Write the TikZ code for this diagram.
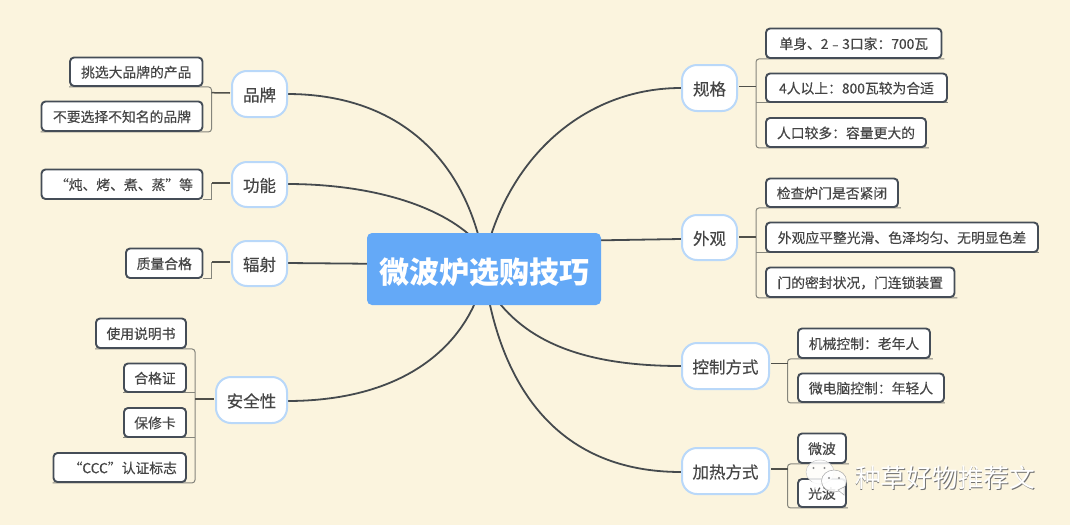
\documentclass[tikz,border=0pt]{standalone}
\usetikzlibrary{calc}
\usepackage{fontspec}
\setmainfont{Noto Sans CJK SC}
\newfontfamily\semifont{Noto Sans CJK SC}[FakeBold=0.3]
\definecolor{bgc}{HTML}{FBF4DE}
\definecolor{cen}{HTML}{64A9F7}
\definecolor{brd}{HTML}{B9D8F9}
\definecolor{dark}{HTML}{454D57}
\definecolor{curve}{HTML}{454A4E}
\definecolor{thin}{HTML}{85857C}
\definecolor{txt}{HTML}{454545}
\pgfdeclarelayer{bgl}
\pgfdeclarelayer{under}
\pgfsetlayers{bgl,under,main}
\newcommand\boxnode[6]{\node[#1,minimum width={(#4-#2)*1pt},minimum height={(#5-#3)*1pt}] (#6) at ({(#2+#4)/2},{(#3+#5)/2})}
\tikzset{
  centerbox/.style={draw=none,fill=cen,rounded corners=5pt,inner sep=0pt,text=white,text height=28.2pt,text depth=0pt,font=\fontsize{30}{32}\selectfont\bfseries},
  branchbox/.style={draw=brd,line width=2pt,fill=white,rounded corners=15pt,inner sep=0pt,text=txt,text height=14.6pt,text depth=0pt,font=\semifont\fontsize{16.5}{18}\selectfont},
  leafbox/.style={draw=dark,line width=1.9pt,fill=white,rounded corners=4pt,inner sep=0pt,text=txt,text height=11.4pt,text depth=0pt,font=\semifont\fontsize{13.8}{15}\selectfont},
  maincurve/.style={draw=curve,line width=1.8pt},
  bracket/.style={draw=thin,line width=1pt,rounded corners=3pt},
  stub/.style={draw=thin!60!black,line width=1.5pt},
  marktext/.style={inner sep=0pt,font=\fontsize{25.7}{28}\selectfont}
}
\begin{document}
\begin{tikzpicture}[x=1pt,y=-1pt]
\useasboundingbox (0,0) rectangle (1070,525);
\begin{pgfonlayer}{bgl}
\fill[bgc] (0,0) rectangle (1070,525);
\end{pgfonlayer}
\coordinate (bpp) at (287,94);
\coordinate (bgn) at (287,184);
\coordinate (bfs) at (287,263);
\coordinate (baq) at (287,401);
\coordinate (rgg) at (681,88);
\coordinate (rwg) at (681,239);
\coordinate (rkz) at (681,366);
\coordinate (rjr) at (681,472);
\coordinate (e1c) at (482,250);
\coordinate (e2c) at (475,240);
\coordinate (e3c) at (375,263.8);
\coordinate (e4c) at (480,290);
\coordinate (e5c) at (488,245);
\coordinate (e6c) at (590,240.5);
\coordinate (e7c) at (490,290);
\coordinate (e8c) at (487,290);
\draw[maincurve] (bpp) .. controls (390,94) and (460,150) .. (e1c);
\draw[maincurve] (bgn) .. controls (370,184) and (440,205) .. (e2c);
\draw[maincurve] (bfs) -- (e3c);
\draw[maincurve] (baq) .. controls (400,401) and (460,350) .. (e4c);
\draw[maincurve] (rgg) .. controls (590,88) and (515,150) .. (e5c);
\draw[maincurve] (rwg) -- (e6c);
\draw[maincurve] (rkz) .. controls (590,366) and (525,345) .. (e7c);
\draw[maincurve] (rjr) .. controls (560,472) and (505,390) .. (e8c);
\boxnode{centerbox}{367}{233}{601}{305}{center} {微波炉选购技巧};
\boxnode{branchbox}{232}{71}{287}{117}{pp} {品牌};
\boxnode{branchbox}{232}{162}{287}{207}{gn} {功能};
\boxnode{branchbox}{232}{241}{287}{286}{fs} {辐射};
\boxnode{branchbox}{216}{377}{287}{423}{aq} {安全性};
\boxnode{branchbox}{682}{65}{737}{111}{gg} {规格};
\boxnode{branchbox}{682}{215}{737}{260}{wg} {外观};
\boxnode{branchbox}{682}{343}{769}{389}{kz} {控制方式};
\boxnode{branchbox}{682}{448}{769}{494}{jr} {加热方式};
\coordinate (lpp) at (211.5,92.7);
\coordinate (lgn) at (211.5,183);
\coordinate (lfs) at (211.5,262);
\coordinate (laq) at (195,399);
\coordinate (rgb) at (756,86.5);
\coordinate (rwb) at (756,237);
\coordinate (rkb) at (787.5,363.5);
\coordinate (rjb) at (787.5,469);
\draw[stub] (pp.west) ++(-1,-1) -- (lpp);
\draw[stub] (gn.west) ++(-1,-1.5) -- (lgn);
\draw[stub] (fs.west) ++(-1,-1.5) -- (lfs);
\draw[stub] (aq.west) ++(-1,-1) -- (laq);
\draw[stub] (gg.east) ++(1,-1.5) -- (rgb);
\draw[stub] (wg.east) ++(1,-0.5) -- (rwb);
\draw[stub] (kz.east) ++(1,-2.5) -- (rkb);
\draw[stub] (jr.east) ++(1,-2) -- (rjb);
\boxnode{leafbox}{70}{57.5}{202.5}{86}{a1} {挑选大品牌的产品};
\boxnode{leafbox}{41.5}{101.5}{202.5}{131}{a2} {不要选择不知名的品牌};
\boxnode{leafbox}{41.5}{169.5}{202.5}{199}{b1} {\hspace{4pt}“炖、烤、煮、蒸”等};
\boxnode{leafbox}{126}{248.5}{202.5}{278}{c1} {质量合格};
\boxnode{leafbox}{96}{318.5}{186}{348}{d1} {使用说明书};
\boxnode{leafbox}{124}{363.5}{186}{392}{d2} {合格证};
\boxnode{leafbox}{124}{408}{186}{437}{d3} {保修卡};
\boxnode{leafbox}{53.5}{453}{186}{482}{d4} {\hspace{6pt}“CCC”认证标志};
\boxnode{leafbox}{766}{28.5}{941.5}{58}{e1} {单身、2﹣3口家：700瓦};
\boxnode{leafbox}{766}{73.5}{947}{102}{e2} {4人以上：800瓦较为合适};
\boxnode{leafbox}{766}{118}{926}{147}{e3} {人口较多：容量更大的};
\boxnode{leafbox}{766}{178.5}{898}{207}{f1} {检查炉门是否紧闭};
\boxnode{leafbox}{766}{222.5}{1038}{252}{f2} {外观应平整光滑、色泽均匀、无明显色差};
\boxnode{leafbox}{766}{267.5}{954.5}{297}{f3} {门的密封状况，门连锁装置};
\boxnode{leafbox}{798}{328.5}{930}{358}{g1} {机械控制：老年人};
\boxnode{leafbox}{798}{373.5}{944}{402}{g2} {微电脑控制：年轻人};
\boxnode{leafbox}{798}{433.5}{846}{463}{h1} {微波};
\boxnode{leafbox}{798}{479}{846}{507}{h2} {光波};
\begin{pgfonlayer}{under}
\draw[bracket] (a1.south west) -- (lpp |- a1.south) -- (lpp |- a2.south) -- (a2.south west);
\draw[bracket,rounded corners=0pt] (lgn) -- (lgn |- b1.south) -- (b1.south east);
\draw[bracket,rounded corners=0pt] (lfs) -- (lfs |- c1.south) -- (c1.south east);
\draw[bracket] (d1.south west) -- (laq |- d1.south) -- (laq |- d4.south) -- (d4.south west);
\draw[bracket] (d2.south west) -- (laq |- d2.south);
\draw[bracket] (d3.south west) -- (laq |- d3.south);
\draw[bracket] ($(e1.south east)+(2,0)$) -- (rgb |- e1.south) -- (rgb |- e3.south) -- ($(e3.south east)+(2,0)$);
\draw[bracket] (rgb |- e2.south) -- (e2.south east);
\draw[bracket] ($(f1.south east)+(2,0)$) -- (rwb |- f1.south) -- (rwb |- f3.south) -- ($(f3.south east)+(2,0)$);
\draw[bracket] (rwb |- f2.south) -- (f2.south east);
\draw[bracket] ($(g1.south east)+(2,0)$) -- (rkb |- g1.south) -- (rkb |- g2.south) -- (g2.south east);
\draw[bracket] ($(h1.south east)+(2,0)$) -- (rjb |- h1.south) -- (rjb |- h2.south) -- ($(h2.south east)+(1,0)$);
\end{pgfonlayer}
% watermark
\path[fill=white,fill opacity=.85,draw=black!25,line width=.4pt] (820,472) ellipse [x radius=14,y radius=12];
\fill[white,fill opacity=.85] (812,481) -- (815,490) -- (821,483) -- cycle;
\path[fill=white,fill opacity=.9,draw=black!35,line width=.5pt] (834,481) ellipse [x radius=12.5,y radius=11];
\path[fill=white,fill opacity=.9,draw=black!35,line width=.5pt] (838,490) -- (844,495) -- (844,487) -- cycle;
\fill[black!45] (813.5,468) circle (1.2) (824.5,468) circle (1.2) (829,478) circle (1.1) (839,478) circle (1.1);
\node[marktext,text=black!55,anchor=west] (ws) at (855.7,478.7) {种草好物推荐文};
\node[marktext,text=white,anchor=west] (wm) at (855,478) {种草好物推荐文};
\end{tikzpicture}
\end{document}
